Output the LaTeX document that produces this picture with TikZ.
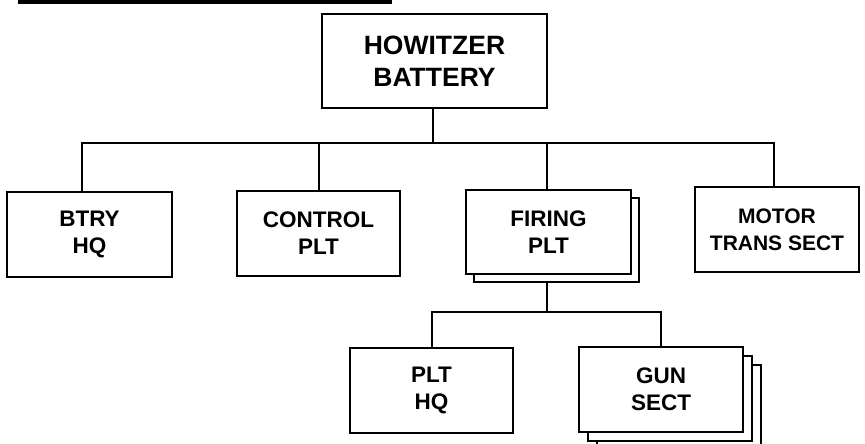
\documentclass[tikz,border=0pt]{standalone}
\usepackage{fontspec}
\setmainfont{Liberation Sans}
\begin{document}
\begin{tikzpicture}[x=1pt,y=-1pt,
  box/.style={draw=black, line width=1.9pt, fill=white, rectangle, inner sep=0pt,
    align=center, font=\bfseries\fontsize{22.5}{27}\selectfont},
  conn/.style={draw=black, line width=2pt}]
\useasboundingbox (0,0) rectangle (865,444);
\clip (0,0) rectangle (865,444);
% top rule (cropped)
\fill[black] (18,0) rectangle (392,4);
% coordinates of the buses
\coordinate (bus1) at (0,143);
\coordinate (bus2) at (0,312);
% top box
\node[box, minimum width=225pt, minimum height=94pt,
      font=\bfseries\fontsize{26.5}{32}\selectfont] (bat) at (434.5,61) {HOWITZER\\BATTERY};
% second row
\node[box, minimum width=165pt, minimum height=85pt] (btry) at (89.5,234.5) {BTRY\\HQ};
\node[box, minimum width=163pt, minimum height=85pt] (ctrl) at (318.5,233.5) {CONTROL\\PLT};
\node[box, minimum width=165pt, minimum height=84pt] (fireB) at (556.5,240) {};
\node[box, minimum width=165pt, minimum height=84pt] (fire) at (548.5,232) {FIRING\\PLT};
\node[box, minimum width=164pt, minimum height=85pt,
      font=\bfseries\fontsize{21}{27}\selectfont] (motor) at (777,229.5) {MOTOR\\TRANS SECT};
% third row
\node[box, minimum width=163pt, minimum height=85pt] (plthq) at (431.5,390.5) {PLT\\HQ};
\node[box, minimum width=164pt, minimum height=85pt] (gunC) at (679,407.5) {};
\node[box, minimum width=164pt, minimum height=85pt] (gunB) at (670,398.5) {};
\node[box, minimum width=164pt, minimum height=85pt] (gun) at (661,389.5) {GUN\\SECT};
% connectors
\draw[conn] ([xshift=-1.5pt]bat.south) -- ([xshift=-1.5pt]bat.south |- bus1);
\draw[conn] ([xshift=-7.5pt]btry.north) |- ([xshift=-3pt]motor.north |- bus1) -- ([xshift=-3pt]motor.north);
\draw[conn] (ctrl.north) -- (ctrl.north |- bus1);
\draw[conn] ([xshift=-1.5pt]fire.north) -- ([xshift=-1.5pt]fire.north |- bus1);
\draw[conn] ([xshift=-1.5pt]fire.south |- fireB.south) -- ([xshift=-1.5pt]fire.south |- bus2);
\draw[conn] (plthq.north) |- (gun.north |- bus2) -- (gun.north);
\end{tikzpicture}
\end{document}
